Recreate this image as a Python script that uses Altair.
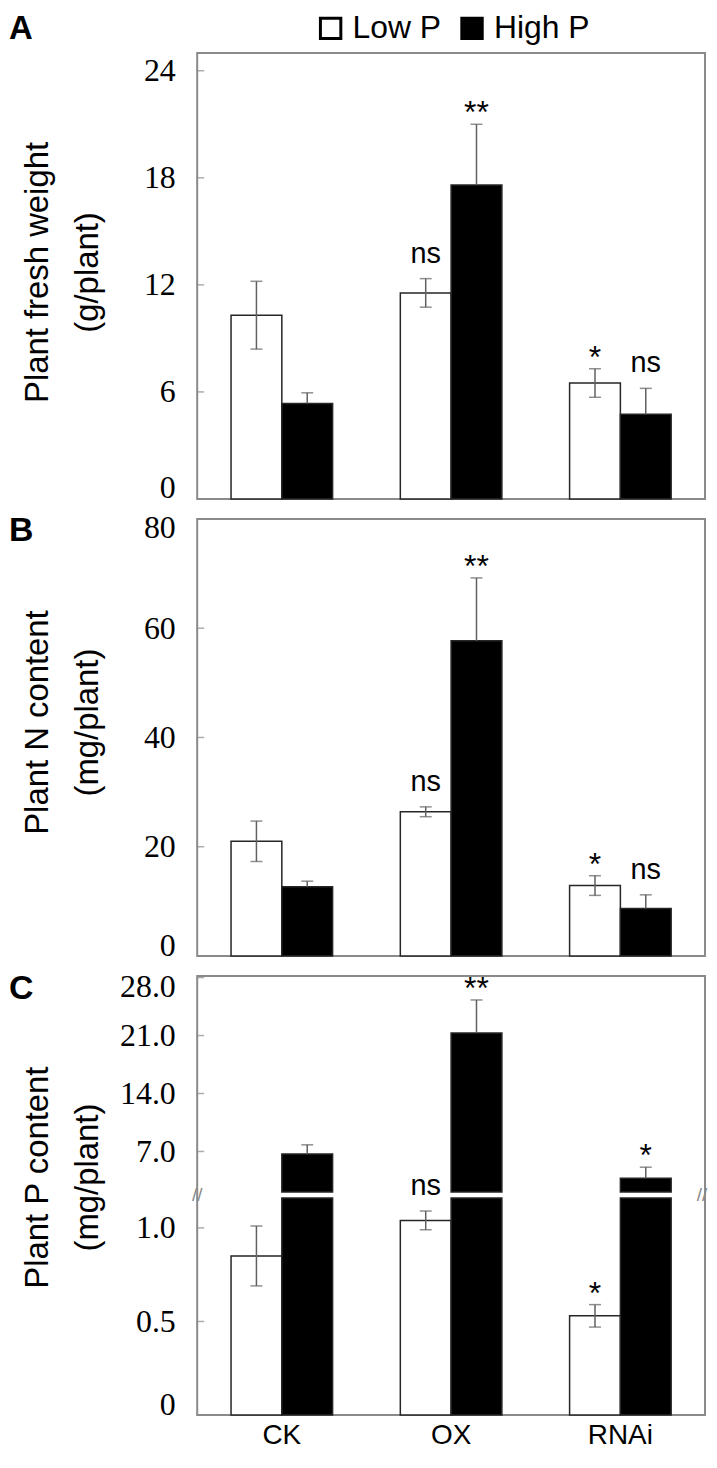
import altair as alt
import pandas as pd

groups = ["CK", "OX", "RNAi"]
treatments = ["Low P", "High P"]

# Panel A: Plant fresh weight (g/plant)
fw_low = [10.3, 11.55, 6.5]
fw_low_err = [1.9, 0.8, 0.8]
fw_high = [5.35, 17.6, 4.75]
fw_high_err = [0.6, 3.4, 1.45]
fw_low_sig = ["", "ns", "*"]
fw_high_sig = ["", "**", "ns"]
fw_ticks = [0, 6, 12, 18, 24]

# Panel B: Plant N content (mg/plant)
n_low = [21.0, 26.4, 12.9]
n_low_err = [3.7, 0.9, 1.8]
n_high = [12.7, 57.7, 8.7]
n_high_err = [1.0, 11.5, 2.5]
n_low_sig = ["", "ns", "*"]
n_high_sig = ["", "**", "ns"]
n_ticks = [0, 20, 40, 60, 80]

# Panel C: Plant P content (mg/plant), broken axis
p_low = [0.85, 1.04, 0.53]
p_low_err = [0.16, 0.05, 0.06]
p_high = [6.7, 21.3, 3.75]
p_high_err = [1.1, 4.0, 1.35]
p_low_sig = ["", "ns", "*"]
p_high_sig = ["", "**", "*"]
p_ticks_upper = [7, 14, 21, 28]
p_ticks_lower = [0, 0.5, 1.0]

W = 510
HA, HB, HC = 448, 439, 441
C_UP = 217      # pixel height of the upper (broken) segment
GAP = 6
FRAME = "#8a8a8a"
ERR = "#606060"
SANS = "Liberation Sans"
SERIF = "Liberation Serif"
TITLE_X = -143


def build(low, low_err, high, high_err, low_sig, high_sig):
    rows = []
    for i, g in enumerate(groups):
        rows.append({"Line": g, "Treatment": "Low P", "mean": low[i],
                     "lo": low[i] - low_err[i], "hi": low[i] + low_err[i], "sig": low_sig[i]})
        rows.append({"Line": g, "Treatment": "High P", "mean": high[i],
                     "lo": high[i], "hi": high[i] + high_err[i], "sig": high_sig[i]})
    return pd.DataFrame(rows)


def x_enc(show):
    if show:
        axis = alt.Axis(title=None, labelFont=SANS, labelFontSize=28, labelColor="black",
                        labelPadding=7, labelAngle=0, ticks=False, domain=False)
    else:
        axis = None
    return alt.X("Line:N", sort=groups,
                 scale=alt.Scale(domain=groups, paddingInner=0.4, paddingOuter=0.2), axis=axis)


XO = alt.XOffset("Treatment:N", sort=treatments, scale=alt.Scale(domain=treatments))
FILL_SCALE = alt.Scale(domain=treatments, range=["white", "black"])


def y_axis(ticks, title=None, title_y=0, fmt=None, label_expr=None):
    kw = dict(values=ticks, ticks=False, domain=False, grid=False, labelFont=SERIF,
              labelFontSize=32, labelColor="black", labelPadding=22, orient="left",
              labelFlush=3, labelFlushOffset=6)
    if fmt:
        kw["format"] = fmt
    if label_expr:
        kw["labelExpr"] = label_expr
    if title:
        kw.update(title=title, titleFont=SANS, titleFontSize=33, titleFontWeight="normal",
                  titleColor="black", titleX=TITLE_X, titleY=title_y, titleLineHeight=50,
                  titleBaseline="bottom", titleAlign="center", titleAngle=270)
    else:
        kw["title"] = None
    return alt.Axis(**kw)


def segment(df, ticks, ys, yaxis, show_x, legend, shared=True, bar_filter=None, err_filter=None):
    """Layers of one y-scale segment."""
    xe = x_enc(show_x)
    other_axis = yaxis if shared else None

    def Y(f, ax):
        return alt.Y(f, scale=ys, axis=ax)

    bb = alt.Chart(df)
    if bar_filter:
        bb = bb.transform_filter(bar_filter)
    bars = bb.mark_bar(stroke="#262626", strokeWidth=1.5).encode(
        x=xe, xOffset=XO, y=Y("mean:Q", yaxis),
        fill=alt.Fill("Treatment:N", scale=FILL_SCALE, legend=legend))
    eb = alt.Chart(df)
    if err_filter:
        eb = eb.transform_filter(err_filter)
    err = eb.mark_rule(color=ERR, strokeWidth=1.5).encode(
        x=xe, xOffset=XO, y=Y("lo:Q", other_axis), y2="hi:Q")
    cap_top = eb.mark_tick(orient="horizontal", size=12, thickness=1.5, color=ERR).encode(
        x=xe, xOffset=XO, y=Y("hi:Q", other_axis))
    cap_bot = eb.transform_filter("datum.Treatment == 'Low P'").mark_tick(
        orient="horizontal", size=12, thickness=1.5, color=ERR).encode(
        x=xe, xOffset=XO, y=Y("lo:Q", other_axis))
    stars = eb.transform_filter("indexof(datum.sig, '*') >= 0").mark_text(
        font=SANS, fontSize=32, color="black", baseline="alphabetic", dy=-1).encode(
        x=xe, xOffset=XO, y=Y("hi:Q", other_axis), text="sig:N")
    ns = eb.transform_filter("datum.sig == 'ns'").mark_text(
        font=SANS, fontSize=29, color="black", baseline="alphabetic", dy=-16).encode(
        x=xe, xOffset=XO, y=Y("hi:Q", other_axis), text="sig:N")
    tk = alt.Chart(pd.DataFrame({"v": ticks})).mark_tick(
        orient="horizontal", size=7, thickness=1.5, color=FRAME).encode(
        y=Y("v:Q", other_axis), x=alt.value(3.5))
    return [bars, err, cap_top, cap_bot, stars, ns, tk]


def letter_layer(letter, y, size=34):
    return alt.Chart(pd.DataFrame({"t": [letter]})).mark_text(
        font=SANS, fontSize=size, fontWeight="bold", align="left", baseline="top", color="black").encode(
        text="t:N", x=alt.value(-189), y=alt.value(y))


dfA = build(fw_low, fw_low_err, fw_high, fw_high_err, fw_low_sig, fw_high_sig)
dfB = build(n_low, n_low_err, n_high, n_high_err, n_low_sig, n_high_sig)
dfC = build(p_low, p_low_err, p_high, p_high_err, p_low_sig, p_high_sig)

legendA = alt.Legend(orient="none", legendX=118, legendY=-41, direction="horizontal", title=None,
                     labelFont=SANS, labelFontSize=32, labelColor="black", symbolType="square",
                     symbolSize=420, symbolStrokeColor="black", symbolStrokeWidth=3,
                     columnPadding=14, labelOffset=6, padding=0)

# Panel A
ysA = alt.Scale(domain=[0, 25], nice=False)
A = alt.layer(
    *segment(dfA, fw_ticks, ysA, y_axis(fw_ticks, ["Plant fresh weight", "(g/plant)"], 220),
             False, legendA),
    letter_layer("A", -40, 33),
).properties(width=W, height=HA)

# Panel B
ysB = alt.Scale(domain=[0, 80], nice=False)
B = alt.layer(
    *segment(dfB, n_ticks, ysB, y_axis(n_ticks, ["Plant N content", "(mg/plant)"], 204),
             False, None),
    letter_layer("B", -5),
).properties(width=W, height=HB)

# Panel C: two y scales sharing one frame (broken axis)
ysCu = alt.Scale(domain=[2.1, 28.2], range=[C_UP, 0], nice=False, zero=False, clamp=True)
ysCl = alt.Scale(domain=[0, (HC - C_UP - GAP) / 188.0], range=[HC, C_UP + GAP], nice=False, clamp=True)
one = alt.Chart(pd.DataFrame({"a": [0]}))
breaks = [
    one.mark_text(text="//", font=SANS, fontSize=19, color=FRAME, align="center",
                  baseline="middle").encode(x=alt.value(xv), y=alt.value(C_UP + GAP / 2))
    for xv in (0, W - 3)
]
C = alt.layer(
    *segment(dfC, p_ticks_upper, ysCu,
             y_axis(p_ticks_upper, ["Plant P content", "(mg/plant)"], 202, fmt=".1f"),
             True, None, shared=False, bar_filter="datum.Treatment == 'High P'",
             err_filter="datum.Treatment == 'High P'"),
    *segment(dfC, p_ticks_lower, ysCl,
             y_axis(p_ticks_lower, label_expr="datum.value == 0 ? '0' : format(datum.value, '.1f')"),
             True, None, shared=False, err_filter="datum.Treatment == 'Low P'"),
    *breaks,
    letter_layer("C", -4),
).resolve_scale(y="independent").properties(width=W, height=HC)

chart = alt.vconcat(A, B, C, spacing=20, bounds="flush").resolve_legend(
    fill="independent"
).properties(
    padding={"left": 0, "top": 0, "right": 0, "bottom": 0},
    background="white",
).configure_view(stroke=FRAME, strokeWidth=2)

chart.save("out.html", embed_options={"renderer": "svg", "actions": False})
